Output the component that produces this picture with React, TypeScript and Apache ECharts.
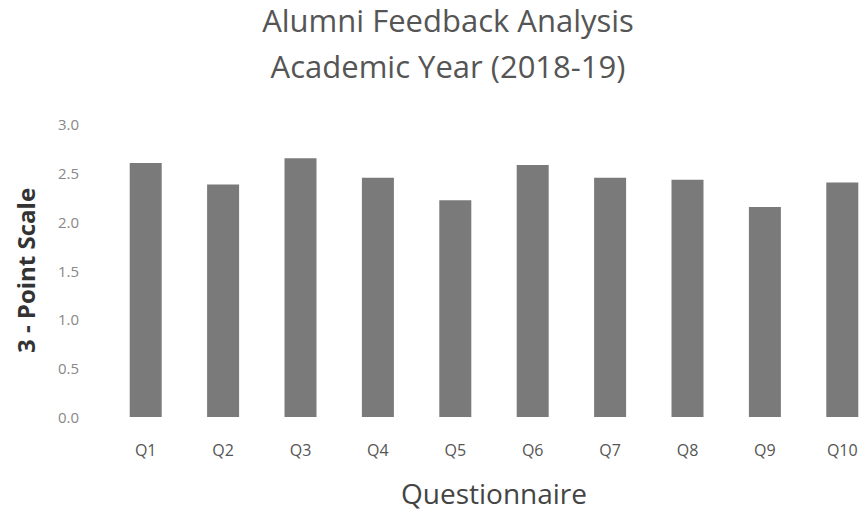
import React, { useEffect, useRef } from "react";
import * as echarts from "echarts";

const categories = ["Q1", "Q2", "Q3", "Q4", "Q5", "Q6", "Q7", "Q8", "Q9", "Q10"];
const scores = [2.6, 2.38, 2.65, 2.45, 2.22, 2.58, 2.45, 2.43, 2.15, 2.4];
const titleLines = ["Alumni Feedback Analysis", "Academic Year (2018-19)"];
const yAxisName = "3 - Point Scale";
const xAxisName = "Questionnaire";

export default function App() {
  const ref = useRef<HTMLDivElement>(null);
  useEffect(() => {
    if (!ref.current) return;
    const chart = echarts.init(ref.current, undefined, { renderer: "svg" });
    const font = "'Open Sans', 'Noto Sans', sans-serif";
    chart.setOption({
      animation: false,
      backgroundColor: "#ffffff",
      title: {
        text: titleLines.join("\n"),
        left: 443,
        top: -8,
        textAlign: "center",
        textStyle: {
          fontFamily: font,
          fontSize: 31,
          fontWeight: "normal",
          color: "#555555",
          lineHeight: 46,
        },
      },
      grid: {
        left: 107,
        top: 124,
        width: 774,
        height: 293,
        containLabel: false,
        outerBoundsMode: "none",
      },
      xAxis: {
        type: "category",
        data: categories,
        axisLine: { show: false },
        axisTick: { show: false },
        axisLabel: {
          margin: 25,
          fontFamily: font,
          fontSize: 16,
          color: "#555555",
        },
        name: xAxisName,
        nameLocation: "middle",
        nameGap: 62,
        nameTextStyle: {
          fontFamily: font,
          fontSize: 28,
          color: "#444444",
        },
      },
      yAxis: {
        type: "value",
        min: 0,
        max: 3,
        interval: 0.5,
        splitLine: { show: false },
        axisLine: { show: false },
        axisTick: { show: false },
        axisLabel: {
          margin: 28,
          fontFamily: font,
          fontSize: 15,
          color: "#888888",
          formatter: (v: number) => v.toFixed(1),
        },
        name: yAxisName,
        nameLocation: "middle",
        nameGap: 70,
        nameRotate: 90,
        nameTextStyle: {
          fontFamily: font,
          fontSize: 24,
          fontWeight: "bold",
          color: "#333333",
        },
      },
      series: [
        {
          type: "bar",
          data: scores,
          barWidth: 32,
          itemStyle: { color: "#7a7a7a" },
        },
      ],
    });
    return () => chart.dispose();
  }, []);
  return <div ref={ref} style={{ width: 864, height: 513, position: "absolute", left: 0, top: 0 }} />;
}
